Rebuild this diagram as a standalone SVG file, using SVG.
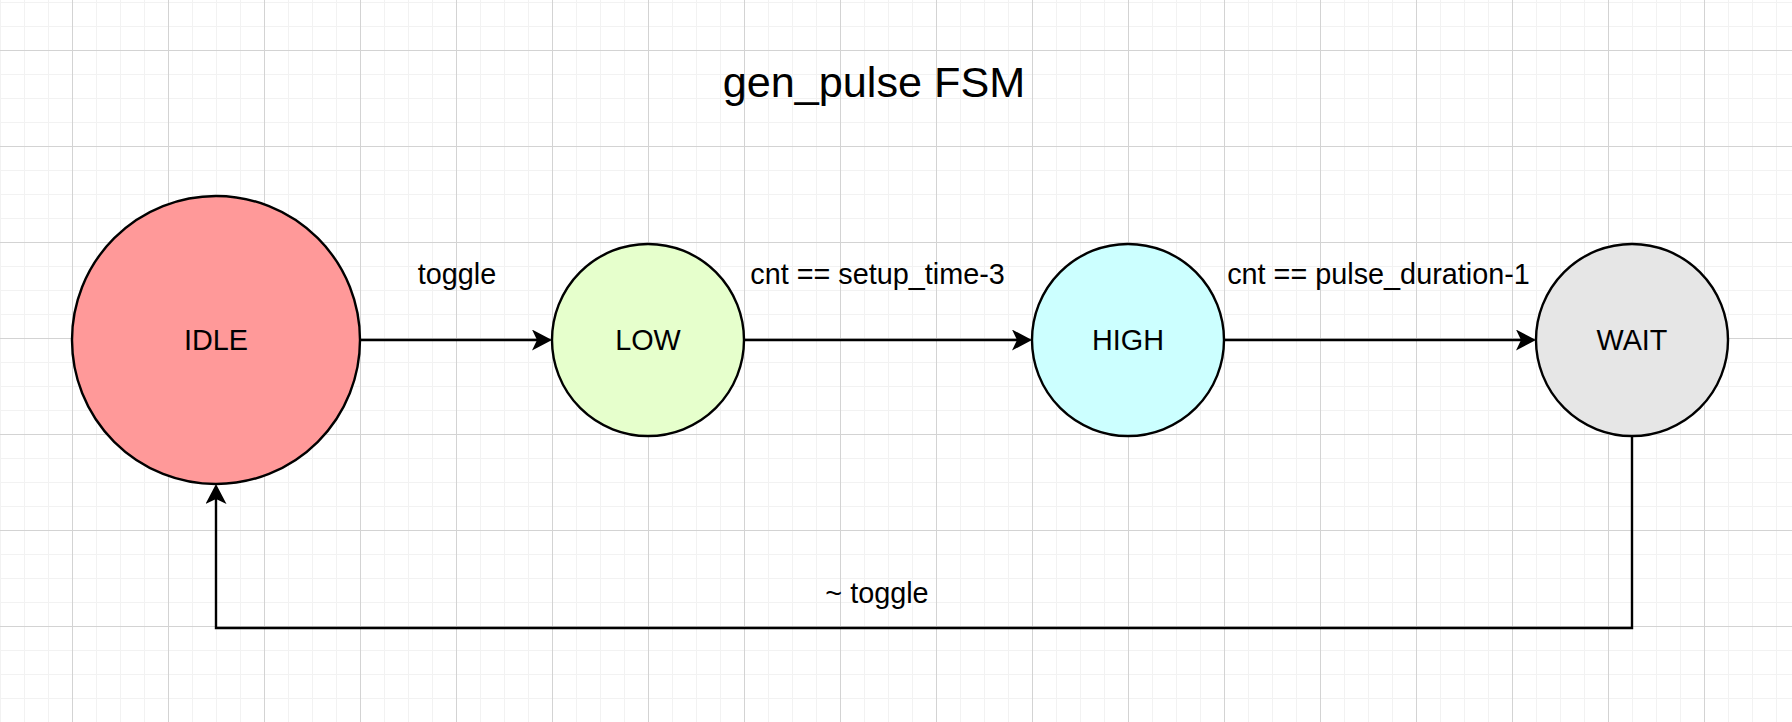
<svg xmlns="http://www.w3.org/2000/svg" width="1792" height="722" viewBox="0 0 1792 722">
  <style>
    .state { stroke: #000000; stroke-width: 2.4; }
    .label { font-family: "Liberation Sans", Arial, sans-serif; font-size: 28.8px; fill: #000000; text-anchor: middle; }
    .title { font-family: "Liberation Sans", Arial, sans-serif; font-size: 43.2px; fill: #000000; text-anchor: middle; }
    .edge { fill: none; stroke: #000000; stroke-width: 2.4; }
  </style>
  <defs>
    <pattern id="minor" x="0" y="2" width="24" height="24" patternUnits="userSpaceOnUse">
      <rect x="0" y="0" width="24" height="1" fill="#f2f2f2"/>
      <rect x="0" y="0" width="1" height="24" fill="#f2f2f2"/>
    </pattern>
    <pattern id="major" x="72" y="50" width="96" height="96" patternUnits="userSpaceOnUse">
      <rect x="0" y="0" width="96" height="1" fill="#d3d3d3"/>
      <rect x="0" y="0" width="1" height="96" fill="#d3d3d3"/>
    </pattern>
    <marker id="arrow" viewBox="0 0 20 21" refX="5" refY="10.5" markerWidth="20" markerHeight="21" markerUnits="userSpaceOnUse" orient="auto">
      <path d="M0,0 L20,10.5 L0,21 L5,10.5 Z" fill="#000000"/>
    </marker>
  </defs>

  <rect width="1792" height="722" fill="#ffffff"/>
  <rect width="1792" height="722" fill="url(#minor)"/>
  <rect width="1792" height="722" fill="url(#major)"/>

  <text class="title" x="874" y="97">gen_pulse FSM</text>

  <g id="connectors">
    <path class="edge" d="M360,340 L537,340" marker-end="url(#arrow)"/>
    <path class="edge" d="M744,340 L1017,340" marker-end="url(#arrow)"/>
    <path class="edge" d="M1224,340 L1521,340" marker-end="url(#arrow)"/>
    <path class="edge" d="M1632,436 L1632,628 L216,628 L216,499" marker-end="url(#arrow)"/>
    <text class="label" x="457" y="284">toggle</text>
    <text class="label" x="877.5" y="284">cnt == setup_time-3</text>
    <text class="label" x="1378.5" y="284">cnt == pulse_duration-1</text>
    <text class="label" x="877" y="603">~ toggle</text>
  </g>

  <g id="IDLE">
    <circle class="state" cx="216" cy="340" r="144" fill="#ff9999"/>
    <text class="label" x="216" y="350">IDLE</text>
  </g>
  <g id="LOW">
    <circle class="state" cx="648" cy="340" r="96" fill="#e6ffcc"/>
    <text class="label" x="648" y="350">LOW</text>
  </g>
  <g id="HIGH">
    <circle class="state" cx="1128" cy="340" r="96" fill="#ccffff"/>
    <text class="label" x="1128" y="350">HIGH</text>
  </g>
  <g id="WAIT">
    <circle class="state" cx="1632" cy="340" r="96" fill="#e6e6e6"/>
    <text class="label" x="1632" y="350">WAIT</text>
  </g>
</svg>
